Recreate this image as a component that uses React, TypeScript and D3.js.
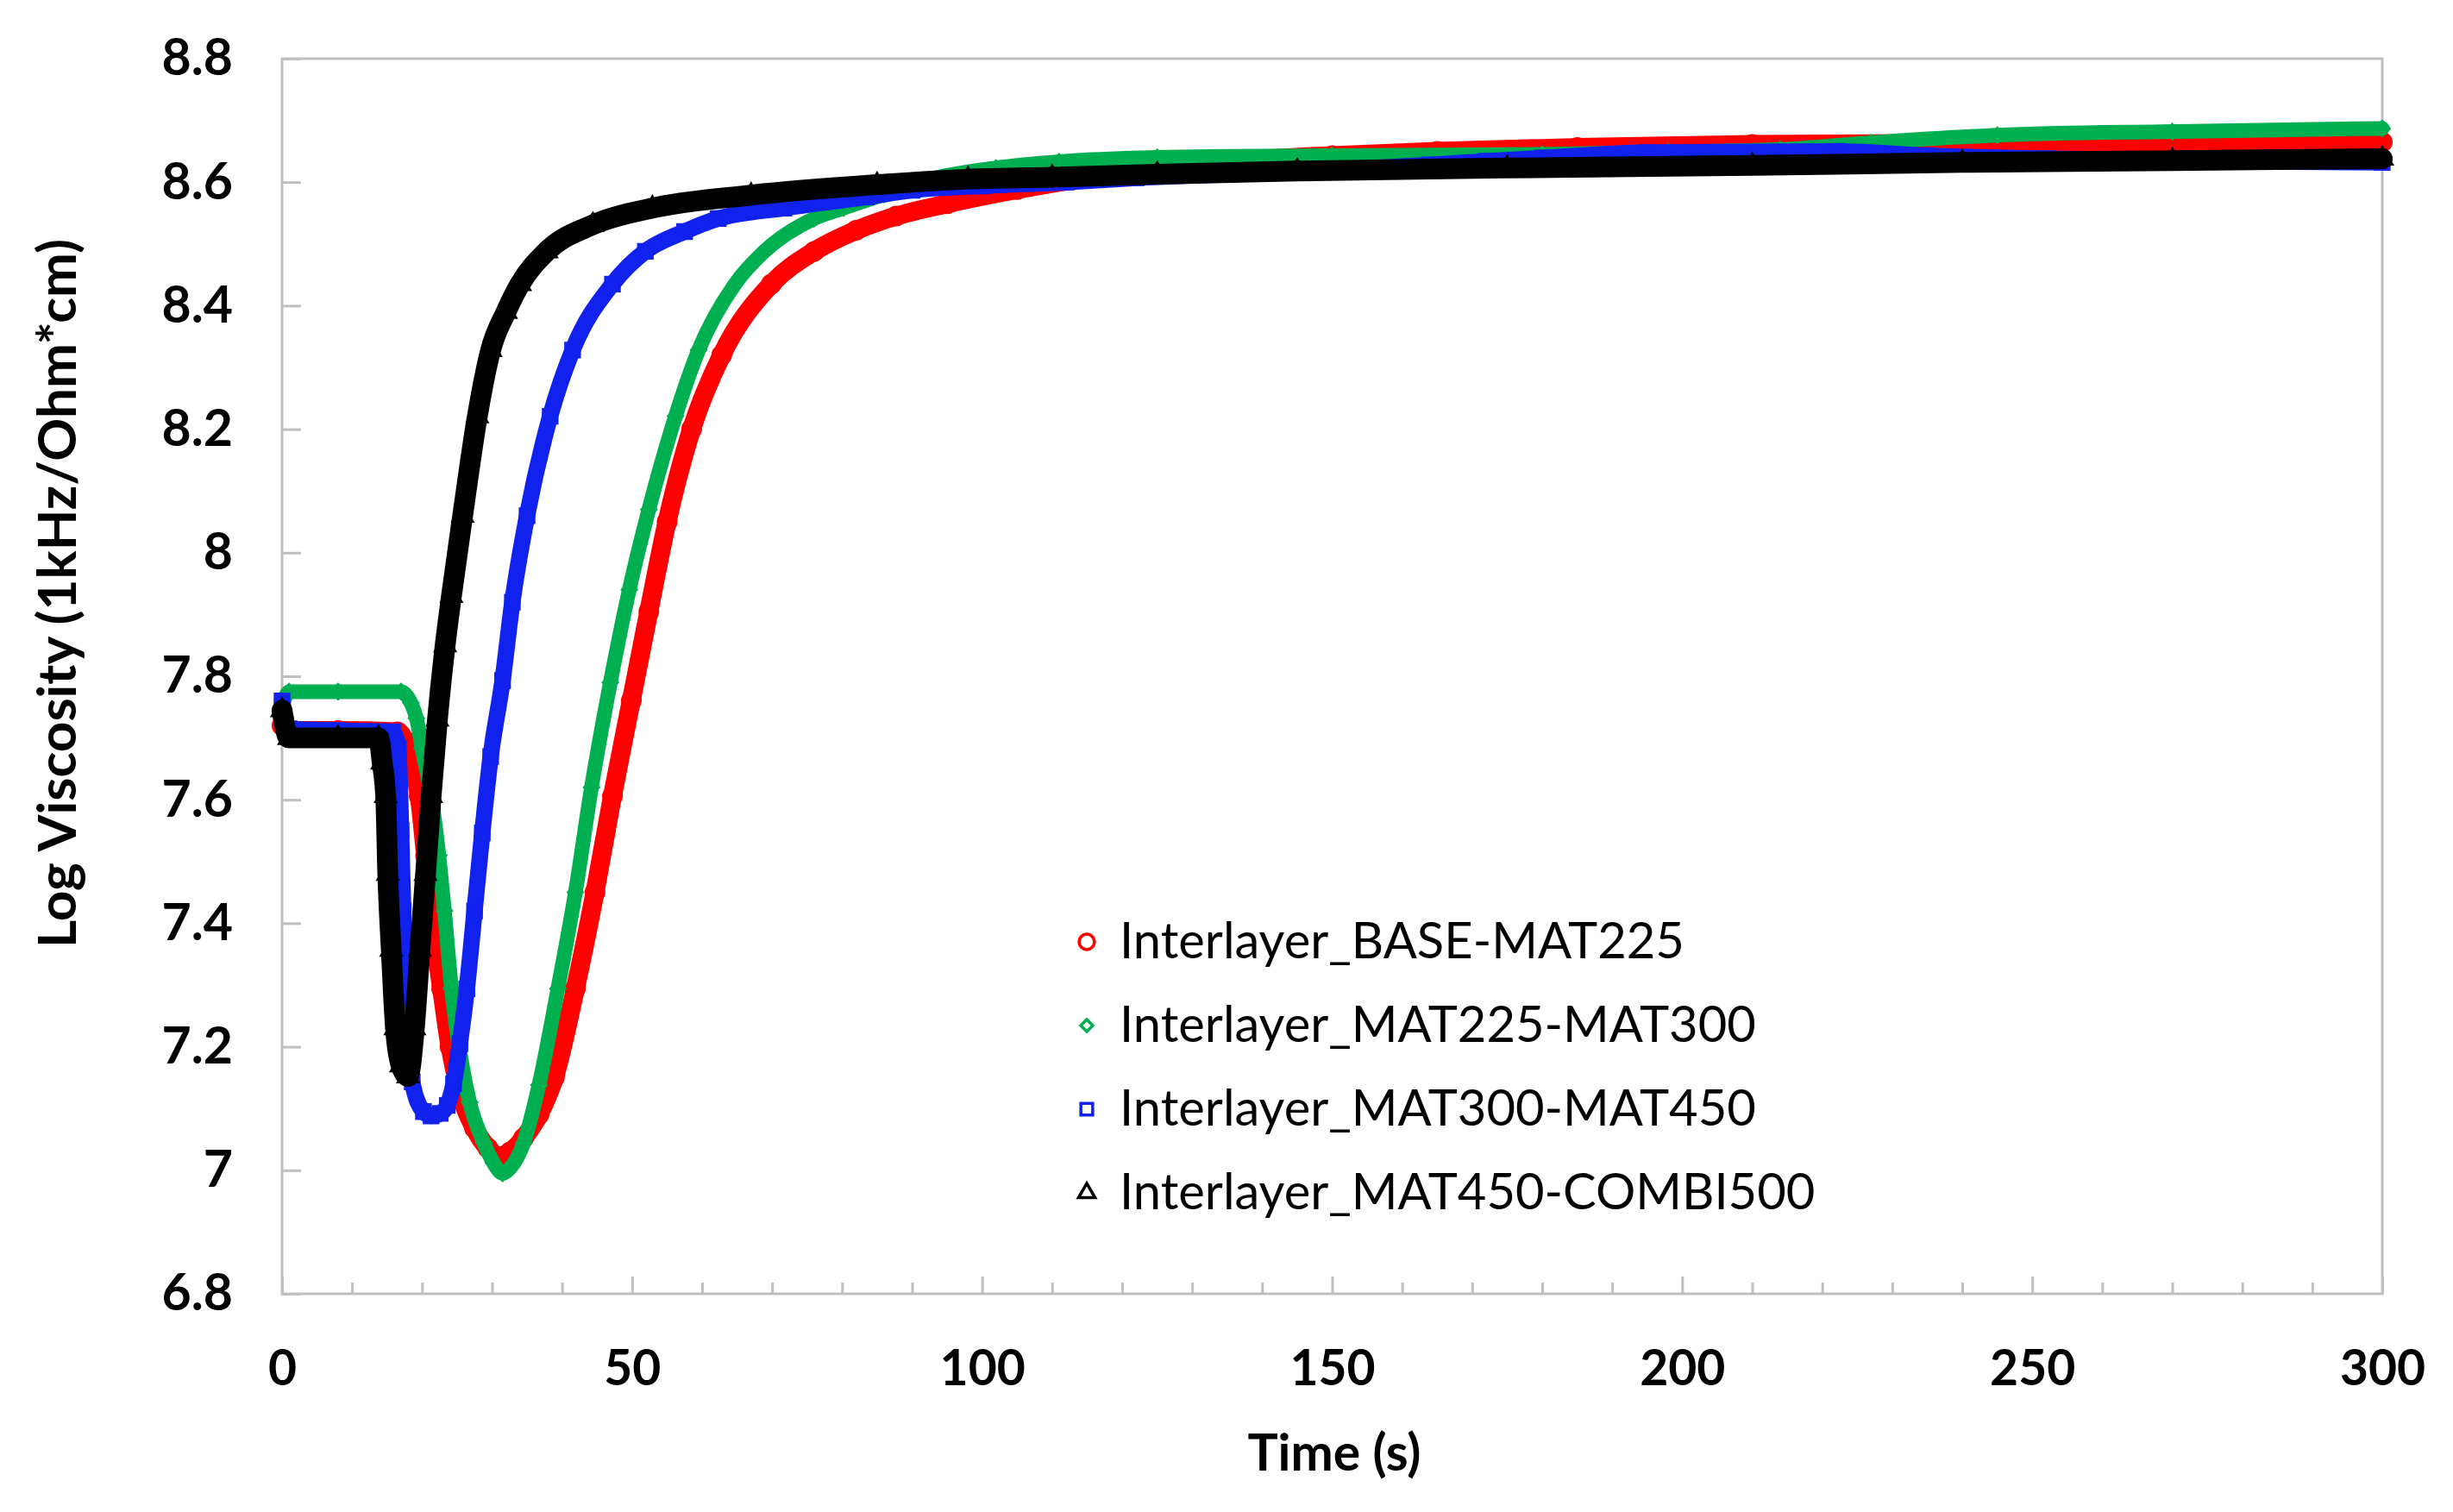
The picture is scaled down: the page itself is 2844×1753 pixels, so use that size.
import React, { useEffect, useRef } from 'react';
import * as d3 from 'd3';

const W = 2844;
const H = 1753;

const xTicks = [0, 50, 100, 150, 200, 250, 300];
const yTicks = [6.8, 7, 7.2, 7.4, 7.6, 7.8, 8, 8.2, 8.4, 8.6, 8.8];

const seriesNames = [
  'Interlayer_BASE-MAT225',
  'Interlayer_MAT225-MAT300',
  'Interlayer_MAT300-MAT450',
  'Interlayer_MAT450-COMBI500',
];

// [time (s), log viscosity]
const baseMat225 = [
  [0, 7.72], [1, 7.712], [8, 7.712], [16.5, 7.71], [17.6, 7.695], [18.6, 7.665],
  [19.6, 7.606], [20.5, 7.51], [21.4, 7.41], [22.8, 7.294], [24, 7.2], [25.6, 7.12],
  [27.5, 7.068], [29.4, 7.036], [31, 7.022], [32.6, 7.03], [34.5, 7.052], [36.7, 7.09],
  [38.9, 7.15], [41.9, 7.294], [44.7, 7.45], [47.2, 7.606], [49.9, 7.761], [52.4, 7.905],
  [55, 8.05], [58.5, 8.2], [62.8, 8.32], [69.9, 8.435], [76, 8.488], [82, 8.522],
  [87.7, 8.545], [95, 8.565], [105, 8.588], [115, 8.607], [125, 8.622], [135, 8.633],
  [150, 8.643], [165, 8.65], [185, 8.656], [210, 8.661], [250, 8.663], [300, 8.665],
];

const mat225Mat300 = [
  [0, 7.75], [1, 7.775], [8, 7.775], [17, 7.775], [18.4, 7.757], [19.2, 7.732],
  [20, 7.683], [21.3, 7.606], [22.4, 7.51], [23.2, 7.42], [24.2, 7.294], [25.3, 7.2],
  [26.8, 7.11], [28.8, 7.045], [30.2, 7.012], [31.5, 6.995], [32.9, 7.008], [34.5, 7.044],
  [36.7, 7.138], [39.4, 7.294], [41.9, 7.45], [44.2, 7.62], [46.9, 7.79], [49.6, 7.94],
  [52.4, 8.07], [56.2, 8.221], [59.5, 8.328], [64.7, 8.435], [68.9, 8.488], [76, 8.541],
  [80.2, 8.558], [86, 8.58], [92.3, 8.604], [102, 8.623], [111, 8.633], [125, 8.64],
  [150, 8.643], [180, 8.645], [198, 8.649], [214, 8.653], [227, 8.664], [245, 8.676],
  [270, 8.682], [300, 8.687],
];

const mat300Mat450 = [
  [0, 7.76], [1, 7.715], [8, 7.712], [15.8, 7.71], [16.6, 7.683], [17, 7.55],
  [17.3, 7.42], [17.8, 7.23], [18.6, 7.143], [20.2, 7.095], [21.3, 7.088], [22.6, 7.092],
  [23.6, 7.105], [24.5, 7.14], [25.4, 7.205], [26.4, 7.294], [27.5, 7.42], [28.6, 7.546],
  [29.8, 7.67], [31.5, 7.793], [32.9, 7.92], [35, 8.06], [38.3, 8.221], [41.5, 8.328],
  [47.2, 8.435], [51.9, 8.488], [57.5, 8.52], [62.3, 8.541], [71.7, 8.558], [83.5, 8.576],
  [90, 8.587], [100, 8.594], [112, 8.6], [122, 8.607], [140, 8.615], [156, 8.623],
  [164, 8.628], [172, 8.634], [180, 8.639], [195, 8.648], [222, 8.65], [235, 8.643],
  [252, 8.638], [275, 8.634], [300, 8.632],
];

const mat450Combi500 = [
  [0, 7.745], [1, 7.7], [8, 7.7], [13.8, 7.7], [14.3, 7.66], [14.8, 7.606],
  [15.1, 7.48], [15.6, 7.357], [16.2, 7.23], [17, 7.17], [18, 7.152], [18.9, 7.23],
  [19.7, 7.357], [20.5, 7.48], [21.3, 7.606], [22.2, 7.73], [23.3, 7.85], [24.2, 7.93],
  [25.8, 8.06], [27.9, 8.221], [29.8, 8.328], [32, 8.39], [34, 8.435], [37.8, 8.488],
  [44.4, 8.531], [52.9, 8.558], [67, 8.579], [85, 8.596], [98, 8.605], [110, 8.608],
  [125, 8.613], [145, 8.618], [175, 8.623], [210, 8.627], [240, 8.632], [270, 8.635],
  [300, 8.638],
];

const App = () => {
  const chartRef = useRef(null);

  useEffect(() => {
    document.body.style.margin = '0';
    document.body.style.overflow = 'hidden';

    const svg = d3.select(chartRef.current)
      .attr('width', W)
      .attr('height', H)
      .style('background-color', '#FFFFFF');

    svg.selectAll('*').remove();

    const left = 327, right = 2762, top = 68, bottom = 1500;
    const font = 'Lato, "Open Sans", sans-serif';
    const axisGrey = '#BFBFBF';

    const x = d3.scaleLinear().domain([0, 300]).range([left, right]);
    const y = d3.scaleLinear().domain([6.8, 8.8]).range([bottom, top]);

    // shrink/grow a text so it spans a given width
    const fit = (sel, target) => {
      const w = sel.node().getComputedTextLength();
      const fs = parseFloat(sel.attr('font-size'));
      if (w > 0) sel.attr('font-size', fs * target / w);
      return sel;
    };

    // plot frame
    svg.append('rect')
      .attr('x', left).attr('y', top)
      .attr('width', right - left).attr('height', bottom - top)
      .attr('fill', 'none')
      .attr('stroke', axisGrey)
      .attr('stroke-width', 3);

    // minor x ticks
    const gMinor = svg.append('g')
      .attr('transform', `translate(0,${bottom})`)
      .call(d3.axisBottom(x).tickValues(x.ticks(30).filter(d => d % 50 !== 0)).tickSizeInner(-13).tickSizeOuter(0).tickFormat(() => ''));
    gMinor.select('.domain').remove();
    gMinor.selectAll('line').attr('stroke', axisGrey).attr('stroke-width', 3);

    const gx = svg.append('g')
      .attr('transform', `translate(0,${bottom})`)
      .call(d3.axisBottom(x).tickValues(xTicks).tickSizeInner(-20).tickSizeOuter(0).tickPadding(66));
    gx.select('.domain').remove();
    gx.selectAll('line').attr('stroke', axisGrey).attr('stroke-width', 3);
    gx.selectAll('text')
      .attr('fill', '#000')
      .style('font-family', font)
      .style('font-weight', 700)
      .style('font-size', '57px');

    const gy = svg.append('g')
      .attr('transform', `translate(${left},0)`)
      .call(d3.axisLeft(y).tickValues(yTicks).tickSizeInner(-22).tickSizeOuter(0).tickPadding(57)
        .tickFormat(d => String(+(+d).toFixed(1))));
    gy.select('.domain').remove();
    gy.selectAll('line').attr('stroke', axisGrey).attr('stroke-width', 3);
    gy.selectAll('text')
      .attr('fill', '#000')
      .style('font-family', font)
      .style('font-weight', 700)
      .style('font-size', '59px');

    const series = [
      { name: seriesNames[0], data: baseMat225, color: '#FF0000', band: 22, symbol: d3.symbolCircle, size: 330, rot: 0 },
      { name: seriesNames[1], data: mat225Mat300, color: '#00B050', band: 17, symbol: d3.symbolSquare, size: 130, rot: 45 },
      { name: seriesNames[2], data: mat300Mat450, color: '#1122EE', band: 19, symbol: d3.symbolSquare, size: 250, rot: 0 },
      { name: seriesNames[3], data: mat450Combi500, color: '#000000', band: 24, symbol: d3.symbolTriangle, size: 210, rot: 0 },
    ];

    const line = d3.line()
      .x(d => x(d[0]))
      .y(d => y(d[1]))
      .curve(d3.curveMonotoneX);

    series.forEach(s => {
      svg.append('path')
        .datum(s.data)
        .attr('d', line)
        .attr('fill', 'none')
        .attr('stroke', s.color)
        .attr('stroke-width', s.band)
        .attr('stroke-linejoin', 'round')
        .attr('stroke-linecap', 'round');

      svg.append('g')
        .selectAll('path')
        .data(s.data)
        .join('path')
        .attr('transform', d => `translate(${x(d[0])},${y(d[1])}) rotate(${s.rot})`)
        .attr('d', d3.symbol().type(s.symbol).size(s.size))
        .attr('fill', 'none')
        .attr('stroke', s.color)
        .attr('stroke-width', 3.5);
    });

    // legend
    const legend = svg.append('g');
    const legendSize = { v: 58 };
    series.forEach((s, i) => {
      const cy = 1092 + i * 97;
      legend.append('path')
        .attr('transform', `translate(1260,${cy}) rotate(${s.rot})`)
        .attr('d', d3.symbol().type(s.symbol).size(s.size * 0.75))
        .attr('fill', 'none')
        .attr('stroke', s.color)
        .attr('stroke-width', 3.5);
      const t = legend.append('text')
        .attr('x', 1298)
        .attr('y', cy + 19)
        .attr('font-family', font)
        .attr('font-size', 58)
        .attr('fill', '#000')
        .text(s.name);
      if (i === 0) {
        fit(t, 655);
        legendSize.v = +t.attr('font-size');
      } else {
        t.attr('font-size', legendSize.v);
      }
    });

    // axis titles
    const xTitle = svg.append('text')
      .attr('x', 1547)
      .attr('y', 1705)
      .attr('text-anchor', 'middle')
      .attr('font-family', font)
      .attr('font-weight', 700)
      .attr('font-size', 58)
      .attr('fill', '#000')
      .text('Time (s)');
    fit(xTitle, 201);

    const yTitle = svg.append('text')
      .attr('transform', 'translate(88,688) rotate(-90)')
      .attr('text-anchor', 'middle')
      .attr('font-family', font)
      .attr('font-weight', 700)
      .attr('font-size', 58)
      .attr('fill', '#000')
      .text('Log Viscosity (1kHz/Ohm*cm)');
    fit(yTitle, 822);
  }, []);

  return (
    <svg ref={chartRef} style={{ position: 'absolute', left: 0, top: 0 }}></svg>
  );
};

export default App;
